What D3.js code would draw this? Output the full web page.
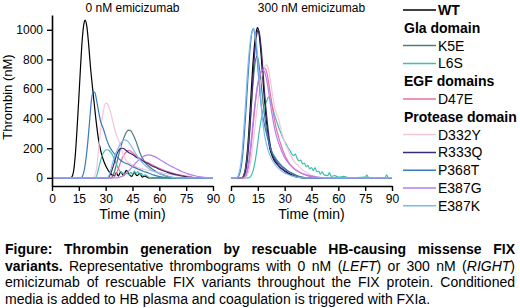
<!DOCTYPE html>
<html>
<head>
<meta charset="utf-8">
<script src="https://cdn.jsdelivr.net/npm/d3@7"></script>
<style>
  body { margin: 0; background: #fff; }
  svg { display: block; font-family: Arial, "Liberation Sans", sans-serif; }
</style>
</head>
<body>
<div id="chart"></div>
<script>
// Variants in legend / drawing order
const variantNames = ["WT", "K5E", "L6S", "D47E", "D332Y", "R333Q", "P368T", "E387G", "E387K"];
const variantColors = ["#000000", "#4b7f78", "#3fbfae", "#ee6ea2", "#f4c6dc", "#3a2a72", "#3a78c2", "#b47ef0", "#7fb8ee"];

const timeTicks = [0, 15, 30, 45, 60, 75, 90];
const thrombinTicks = [0, 200, 400, 600, 800, 1000];

// Legend rows (headings are the entries not in variantNames)
const legendLabels = ["WT", "Gla domain", "K5E", "L6S", "EGF domains", "D47E", "Protease domain", "D332Y", "R333Q", "P368T", "E387G", "E387K"];

// ---- 0 nM emicizumab: [time (min), thrombin (nM)]
const WT_0 = [[0,0],[10,0],[11,5],[12,40],[13,150],[14,330],[15,540],[16,760],[17,950],[18,1050],[18.5,1065],[19.5,1020],[20.5,900],[21.5,750],[23,570],[24.5,400],[26,260],[27.5,170],[29,110],[30.5,70],[32,40],[33.5,20],[35,15],[36,35],[37,12],[38.5,40],[40,15],[41.5,50],[43,25],[44.5,10],[46,35],[47.5,15],[49,30],[50.5,5],[52,12],[54,0],[90,0]];
const K5E_0 = [[0,0],[33,0],[34,15],[35,45],[36,90],[37,140],[38,190],[39,230],[40,265],[41,295],[42,315],[43,322],[44,318],[45,300],[46,275],[47,245],[48,210],[49,175],[50,145],[51,125],[52,105],[54,80],[56,60],[58,45],[60,30],[62,20],[64,10],[66,5],[68,0],[90,0]];
const L6S_0 = [[0,0],[24,0],[25,15],[26,60],[27,110],[28,150],[29,175],[30,188],[31,190],[32,185],[33,170],[34,150],[35,120],[36,90],[37,65],[38,45],[39,35],[40,30],[41,25],[42,32],[43,20],[44,38],[45,25],[46,45],[47,32],[48,42],[49,22],[50,30],[51,15],[52,20],[54,5],[56,0],[90,0]];
const D47E_0 = [[0,0],[34,0],[35,10],[36,30],[37,60],[38,95],[39,125],[40,150],[41,168],[42,180],[43,185],[44,180],[45,170],[46,158],[47,150],[48,140],[50,125],[52,110],[54,100],[56,88],[58,75],[60,65],[62,55],[64,45],[66,38],[68,30],[70,24],[72,18],[75,12],[78,6],[82,0],[90,0]];
const D332Y_0 = [[0,0],[23,0],[24,20],[25,70],[26,180],[27,300],[28,400],[29,470],[30,505],[31,500],[32,470],[33,430],[34,380],[35,330],[36,290],[37,260],[38,225],[39,185],[40,150],[41,125],[42,110],[44,95],[46,80],[48,70],[50,62],[52,55],[55,48],[58,40],[61,35],[64,28],[67,22],[70,15],[73,10],[76,5],[80,0],[90,0]];
const R333Q_0 = [[0,0],[31,0],[32,10],[33,35],[34,70],[35,110],[36,150],[37,180],[38,195],[39,200],[40,198],[41,190],[42,180],[43,170],[44,165],[45,158],[46,150],[47,140],[48,135],[50,120],[52,105],[54,95],[56,80],[58,70],[60,58],[62,48],[64,40],[66,32],[68,25],[70,20],[72,14],[74,10],[76,6],[78,3],[80,0],[90,0]];
const P368T_0 = [[0,0],[16,0],[17,10],[18,50],[19,130],[20,240],[21,380],[22,520],[23,585],[24,575],[25,520],[26,450],[27,390],[29,320],[30.5,260],[32,215],[33.5,185],[35,160],[36.5,140],[38,122],[40,105],[42,95],[45,76],[48,60],[51,45],[54,33],[57,18],[60,8],[63,3],[66,0],[90,0]];
const E387G_0 = [[0,0],[37,0],[38,5],[40,15],[42,35],[44,60],[46,90],[48,115],[50,135],[52,150],[54,155],[56,150],[58,140],[60,125],[62,110],[64,95],[66,82],[68,70],[70,58],[72,46],[74,36],[76,27],[78,20],[80,14],[82,9],[84,5],[86,2],[88,0],[90,0]];
const E387K_0 = [[0,0],[31,0],[32,20],[33,60],[34,105],[35,145],[36,175],[37,200],[38,225],[39,245],[40.5,257],[42,250],[43.5,230],[45,200],[46.5,170],[48,140],[50,110],[52,85],[54,65],[56,50],[58,40],[60,30],[62,22],[64,15],[66,8],[68,3],[70,0],[90,0]];

// ---- 300 nM emicizumab
const WT_300 = [[0,0],[6,0],[7,15],[8,60],[9,160],[10,320],[11,520],[12,720],[13,880],[14,980],[14.8,1015],[15.5,990],[16.5,880],[17.5,720],[18.5,560],[19.5,420],[20.5,300],[21.5,210],[22.5,165],[24,120],[26,90],[28,65],[30,48],[32,32],[34,20],[36,10],[38,5],[40,0],[90,0]];
const K5E_300 = [[0,0],[6,0],[7,10],[8,50],[9,130],[10,260],[11,420],[12,590],[13,730],[14,810],[14.5,820],[15.2,800],[16,730],[17,620],[18,500],[19,400],[20,320],[21,260],[22,210],[23,170],[24.5,135],[26,105],[28,80],[30,60],[32,45],[34,32],[36,20],[38,10],[40,5],[42,0],[90,0]];
const L6S_300 = [[0,0],[10,0],[11,10],[12,35],[13,80],[14,150],[15,240],[16,330],[17,400],[18,450],[19,490],[20,520],[21,545],[22,530],[23,490],[24,440],[25,400],[26,365],[27,330],[28,300],[29,270],[30,245],[31,225],[32,200],[33,185],[34,160],[35,150],[36,160],[37,130],[38,115],[39,120],[40,95],[41,100],[42,75],[43,85],[44,60],[45,70],[46,50],[47,70],[48,40],[49,45],[50,25],[51,40],[52,20],[54,15],[55,35],[56,10],[58,15],[60,5],[63,10],[66,0],[75,5],[76,18],[77,0],[86,0],[87,20],[88,0],[90,0]];
const D47E_300 = [[0,0],[7.5,0],[8.5,15],[9.5,55],[10.5,130],[11.5,240],[12.5,370],[13.5,490],[14.5,590],[15.5,660],[16.5,705],[17.5,730],[18.5,740],[19.3,735],[20.2,700],[21.2,630],[22.2,550],[23.2,470],[24.2,400],[25.2,340],[26.5,280],[28,220],[29.5,170],[31,130],[32.5,100],[34,78],[36,55],[38,40],[40,28],[42,18],[44,10],[47,4],[50,0],[90,0]];
const D332Y_300 = [[0,0],[8,0],[9,15],[10,50],[11,110],[12,200],[13,300],[14,410],[15,510],[16,600],[17,670],[18,720],[19,755],[19.8,763],[20.6,750],[21.5,700],[22.5,620],[23.5,540],[24.5,470],[25.5,430],[26.5,400],[27.5,350],[28.5,300],[29.5,260],[30.5,225],[31.8,195],[33,160],[34.5,125],[36,100],[37.5,85],[39,65],[41,45],[43,30],[45,18],[47,10],[50,4],[53,0],[90,0]];
const R333Q_300 = [[0,0],[6.5,0],[7.5,15],[8.5,60],[9.5,160],[10.5,320],[11.5,520],[12.5,720],[13.5,880],[14.5,975],[15.2,1000],[16,970],[17,860],[18,700],[19,540],[20,410],[21,300],[22,215],[23,160],[24.5,120],[26.5,85],[28.5,60],[30.5,40],[32.5,25],[35,12],[38,4],[40,0],[90,0]];
const P368T_300 = [[0,0],[3.5,0],[4.5,15],[5.5,60],[6.5,150],[7.5,300],[8.5,480],[9.5,680],[10.5,850],[11.5,970],[12.4,1008],[13.3,970],[14.3,860],[15.3,700],[16.3,560],[17.3,450],[18.5,370],[20,290],[21.5,220],[23,170],[24.5,140],[26,115],[28,85],[30,65],[32,45],[34,30],[36,18],[38,8],[40,0],[90,0]];
const E387G_300 = [[0,0],[7,0],[8,15],[9,50],[10,120],[11,220],[12,340],[13,460],[14,560],[15,640],[16,695],[17,722],[17.9,730],[18.8,715],[19.8,670],[20.8,600],[21.8,520],[22.8,440],[23.8,370],[25,300],[26.5,240],[28,190],[29.5,150],[31,118],[33,88],[35,65],[37,48],[39,35],[41,25],[43,18],[45,12],[48,6],[52,0],[90,0]];
const E387K_300 = [[0,0],[3,0],[4,15],[5,60],[6,150],[7,300],[8,480],[9,670],[10,830],[11,940],[12,995],[12.8,1005],[13.6,970],[14.6,860],[15.6,700],[16.6,540],[17.6,400],[18.6,300],[20,220],[21.5,160],[23,120],[25,85],[27,60],[29,40],[31,28],[33,18],[35,10],[37,4],[39,0],[90,0]];

const series0 = [WT_0, K5E_0, L6S_0, D47E_0, D332Y_0, R333Q_0, P368T_0, E387G_0, E387K_0];
const series300 = [WT_300, K5E_300, L6S_300, D47E_300, D332Y_300, R333Q_300, P368T_300, E387G_300, E387K_300];

// Caption: ** toggles bold, _ toggles italic (state carries over lines)
const captionLines = [
  "**Figure: Thrombin generation by rescuable HB-causing missense FIX",
  "variants.** Representative thrombograms with 0 nM (_LEFT_) or 300 nM (_RIGHT_)",
  "emicizumab of rescuable FIX variants throughout the FIX protein. Conditioned",
  "media is added to HB plasma and coagulation is triggered with FXIa."
];

const width = 520, height = 308;

const svg = d3.select("#chart").append("svg")
  .attr("width", width)
  .attr("height", height);

const y = d3.scaleLinear().domain([-55, 1100]).range([186, 15]);
const xLeft = d3.scaleLinear().domain([0, 90]).range([52, 213]);
const xRight = d3.scaleLinear().domain([0, 90]).range([231, 392]);
const color = d3.scaleOrdinal().domain(variantNames).range(variantColors);

function styleAxis(g) {
  g.select(".domain").attr("stroke", "#000").attr("stroke-width", 1.6);
  g.selectAll(".tick line").attr("stroke", "#000").attr("stroke-width", 1.4);
  g.selectAll(".tick text").attr("fill", "#000").style("font-size", "12px")
    .style("font-family", "Arial, 'Liberation Sans', sans-serif");
}

function drawPanel(x, series, title) {
  const line = d3.line()
    .x(d => x(d[0]))
    .y(d => y(d[1]))
    .curve(d3.curveMonotoneX);

  const g = svg.append("g");

  g.append("g")
    .selectAll("path")
    .data(series)
    .join("path")
    .attr("fill", "none")
    .attr("stroke", (d, i) => color(variantNames[i]))
    .attr("stroke-width", 1.2)
    .attr("stroke-linejoin", "round")
    .attr("d", line);

  g.append("g")
    .attr("transform", "translate(0,186)")
    .call(d3.axisBottom(x).tickValues(timeTicks).tickSize(5).tickPadding(3).tickSizeOuter(0))
    .call(styleAxis);

  const [x0, x1] = x.range();
  g.append("text")
    .attr("x", (x0 + x1) / 2)
    .attr("y", 12)
    .attr("text-anchor", "middle")
    .style("font-size", "12px")
    .text(title);

  g.append("text")
    .attr("x", (x0 + x1) / 2)
    .attr("y", 219)
    .attr("text-anchor", "middle")
    .style("font-size", "14px")
    .text("Time (min)");
}

drawPanel(xLeft, series0, "0 nM emicizumab");
drawPanel(xRight, series300, "300 nM emicizumab");

// Y axis only on the left panel
svg.append("g")
  .attr("transform", "translate(52,0)")
  .call(d3.axisLeft(y).tickValues(thrombinTicks).tickFormat(d3.format("d"))
    .tickSize(5).tickPadding(4).tickSizeOuter(0))
  .call(styleAxis);

svg.append("text")
  .attr("transform", "translate(12,97) rotate(-90)")
  .attr("text-anchor", "middle")
  .style("font-size", "13px")
  .text("Thrombin (nM)");

// Legend
const legend = svg.append("g");
legendLabels.forEach((label, i) => {
  const cy = 10 + i * 17.8;
  const isVariant = variantNames.includes(label);
  if (isVariant) {
    legend.append("line")
      .attr("x1", 403).attr("x2", 436)
      .attr("y1", cy).attr("y2", cy)
      .attr("stroke", color(label))
      .attr("stroke-width", 1.5);
  }
  legend.append("text")
    .attr("x", isVariant ? 438 : 404)
    .attr("y", cy + 5)
    .style("font-size", "14px")
    .style("font-weight", (!isVariant || label === "WT") ? "bold" : "normal")
    .text(label);
});

// Caption, justified like the source
let capBold = false, capItal = false;
function parseLine(str) {
  return str.split(" ").map(w => {
    const segs = [];
    let buf = "";
    for (let i = 0; i < w.length; i++) {
      if (w.startsWith("**", i)) {
        if (buf) segs.push({ t: buf, bold: capBold, ital: capItal });
        buf = ""; capBold = !capBold; i++;
      } else if (w[i] === "_") {
        if (buf) segs.push({ t: buf, bold: capBold, ital: capItal });
        buf = ""; capItal = !capItal;
      } else buf += w[i];
    }
    if (buf) segs.push({ t: buf, bold: capBold, ital: capItal });
    return segs;
  });
}

const capLeft = 5, capRight = 515, capSize = 14;
const caption = svg.append("g").style("font-size", capSize + "px");
captionLines.forEach((str, li) => {
  const base = 254 + li * 16.5;
  const words = parseLine(str).map(segs => {
    const t = caption.append("text").attr("y", base);
    segs.forEach(s => {
      t.append("tspan")
        .style("font-weight", s.bold ? "bold" : "normal")
        .style("font-style", s.ital ? "italic" : "normal")
        .text(s.t);
    });
    return { el: t, w: t.node().getComputedTextLength() };
  });
  const total = d3.sum(words, d => d.w);
  const last = li === captionLines.length - 1;
  const gap = last ? capSize * 0.278 : (capRight - capLeft - total) / (words.length - 1);
  let cx = capLeft;
  words.forEach(d => {
    d.el.attr("x", cx);
    cx += d.w + gap;
  });
});
</script>
</body>
</html>
